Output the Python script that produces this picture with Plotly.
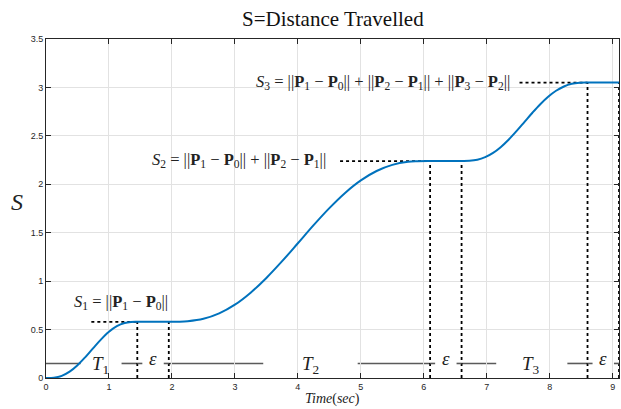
import plotly.graph_objects as go

# ---- data ----
time_s = [0, 0.125, 0.25, 0.375, 0.5, 0.625, 0.75, 0.875, 1.0, 1.125, 1.25, 1.35, 1.45,
          1.95, 2.1, 2.25, 2.5, 2.75, 3.0, 3.25, 3.5, 3.75, 4.0, 4.25, 4.5, 4.75,
          5.0, 5.25, 5.5, 5.75, 5.9, 6.1,
          6.6, 6.725, 6.85, 6.975, 7.1, 7.225, 7.35, 7.475, 7.6, 7.725, 7.85, 7.975,
          8.1, 8.225, 8.35, 8.475, 8.6, 9.1]
distance = [0, 0.003, 0.022, 0.065, 0.132, 0.216, 0.309, 0.399, 0.477, 0.535, 0.567, 0.578, 0.58,
            0.58, 0.581, 0.586, 0.611, 0.667, 0.757, 0.881, 1.033, 1.206, 1.391, 1.578, 1.754, 1.911,
            2.04, 2.137, 2.20, 2.232, 2.238, 2.24,
            2.24, 2.242, 2.253, 2.28, 2.324, 2.386, 2.463, 2.551, 2.645, 2.739, 2.827, 2.904,
            2.966, 3.010, 3.037, 3.048, 3.05, 3.05]

dwell_start = [1.45, 6.1, 8.6]
dwell_end = [1.95, 6.6, 9.1]
levels = [0.58, 2.24, 3.05]
level_dots_start = [0.72, 4.67, 7.52]

x_ticks = [0, 1, 2, 3, 4, 5, 6, 7, 8, 9]
y_ticks = [0, 0.5, 1, 1.5, 2, 2.5, 3, 3.5]
y_tick_labels = ["0", "0.5", "1", "1.5", "2", "2.5", "3", "3.5"]

dim_level = 0.15
dim_segments = [(0, 0.55), (1.2, 1.45), (1.95, 3.45), (4.95, 6.1), (6.6, 7.15), (8.28, 8.6)]
eps_tick = 0.08

fig = go.Figure()

# gray dimension lines
for a, b in dim_segments:
    fig.add_shape(type="line", x0=a, x1=b, y0=dim_level, y1=dim_level,
                  line=dict(color="#5a5a5a", width=1.6), layer="below")
for a, b in zip(dwell_start, dwell_end):
    fig.add_shape(type="line", x0=a, x1=a + eps_tick, y0=dim_level, y1=dim_level,
                  line=dict(color="#5a5a5a", width=1.6))
    fig.add_shape(type="line", x0=b - eps_tick, x1=b, y0=dim_level, y1=dim_level,
                  line=dict(color="#5a5a5a", width=1.6))

# dotted lines
for a, b, lv, d0 in zip(dwell_start, dwell_end, levels, level_dots_start):
    fig.add_trace(go.Scatter(x=[d0, a], y=[lv, lv], mode="lines",
                             line=dict(color="black", width=1.8, dash="dot"),
                             showlegend=False, hoverinfo="skip"))
    for xv in (a, b):
        fig.add_trace(go.Scatter(x=[xv, xv], y=[0, lv], mode="lines",
                                 line=dict(color="black", width=1.8, dash="dot"),
                                 showlegend=False, hoverinfo="skip"))

# main curve
fig.add_trace(go.Scatter(x=time_s, y=distance, mode="lines",
                         line=dict(color="#0072BD", width=2, shape="spline", smoothing=1.0),
                         showlegend=False))

serif = "Liberation Serif"
N = "||"
FS = 16.5
ann = []
ann.append(dict(x=1.97, y=0.78, xref="x", yref="y", xanchor="right", yanchor="middle",
                text=f"<i>S</i><sub>1</sub> = {N}<b>P</b><sub>1</sub> − <b>P</b><sub>0</sub>{N}",
                showarrow=False, font=dict(family=serif, size=FS, color="#222")))
ann.append(dict(x=4.48, y=2.25, xref="x", yref="y", xanchor="right", yanchor="middle",
                text=f"<i>S</i><sub>2</sub> = {N}<b>P</b><sub>1</sub> − <b>P</b><sub>0</sub>{N} + {N}<b>P</b><sub>2</sub> − <b>P</b><sub>1</sub>{N}",
                showarrow=False, font=dict(family=serif, size=FS, color="#222")))
ann.append(dict(x=7.40, y=3.06, xref="x", yref="y", xanchor="right", yanchor="middle",
                text=f"<i>S</i><sub>3</sub> = {N}<b>P</b><sub>1</sub> − <b>P</b><sub>0</sub>{N} + {N}<b>P</b><sub>2</sub> − <b>P</b><sub>1</sub>{N} + {N}<b>P</b><sub>3</sub> − <b>P</b><sub>2</sub>{N}",
                showarrow=False, font=dict(family=serif, size=FS, color="#222")))
for lbl, xv in (("<i>T</i><sub>1</sub>", 0.86), ("<i>T</i><sub>2</sub>", 4.2), ("<i>T</i><sub>3</sub>", 7.7)):
    ann.append(dict(x=xv, y=0.13, xref="x", yref="y", text=lbl, showarrow=False,
                    font=dict(family=serif, size=19, color="#222")))
for a, b in zip(dwell_start, dwell_end):
    ann.append(dict(x=(a + b) / 2, y=0.2, xref="x", yref="y", text="<i>ε</i>", showarrow=False,
                    font=dict(family=serif, size=19, color="#222")))
ann.append(dict(x=0.5, y=-0.062, xref="paper", yref="paper", xanchor="center", yanchor="middle",
                text="<i>Time</i>(<i>sec</i>)",
                showarrow=False, font=dict(family=serif, size=14, color="#222")))
ann.append(dict(x=-0.05, y=0.52, xref="paper", yref="paper", xanchor="center", yanchor="middle",
                text="<i>S</i>",
                showarrow=False, font=dict(family=serif, size=24, color="#222")))

axis_common = dict(showgrid=True, gridcolor="#e2e2e2", gridwidth=1,
                   showline=True, linecolor="#262626", linewidth=1,
                   mirror="ticks", ticks="inside", ticklen=5, tickcolor="#262626",
                   tickfont=dict(family="Liberation Sans", size=9, color="#262626"),
                   zeroline=False, automargin=False)

fig.update_layout(
    width=621, height=409,
    margin=dict(l=46, r=2, t=39, b=31),
    paper_bgcolor="white", plot_bgcolor="white",
    title=dict(text="S=Distance Travelled", x=0.536, xanchor="center",
               y=0.955, yanchor="middle", yref="container",
               font=dict(family=serif, size=21, color="#111")),
    xaxis=dict(range=[0, 9.1], tickvals=x_ticks, **axis_common),
    yaxis=dict(range=[0, 3.5], tickvals=y_ticks, ticktext=y_tick_labels, **axis_common),
    annotations=ann,
)

fig.write_html("out.html", config={"displayModeBar": False},
               post_script="document.body.style.margin='0';document.body.style.overflow='hidden';")
